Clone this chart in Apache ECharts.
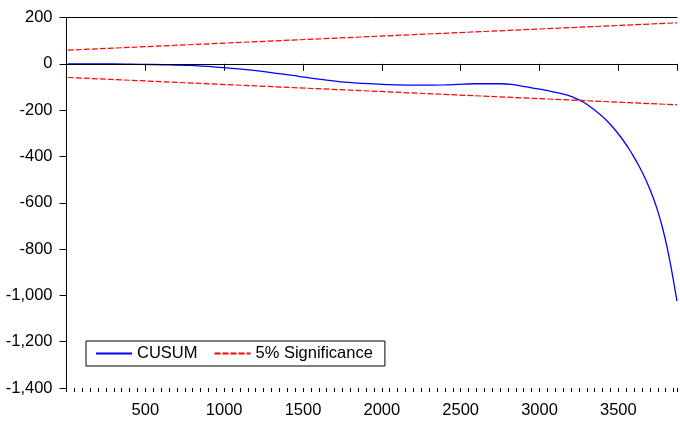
<!DOCTYPE html>
<html>
<head>
<meta charset="utf-8">
<script src="https://cdn.jsdelivr.net/npm/echarts@6/dist/echarts.min.js"></script>
<style>
  html, body { margin: 0; padding: 0; background: #fff; }
  #chart { width: 680px; height: 423px; }
</style>
</head>
<body>
<div id="chart"></div>
<script>
// CUSUM test
const obsIndex = [8, 300, 464, 620, 780, 950, 1095, 1300, 1473, 1650, 1789, 1978, 2100, 2230, 2400, 2480, 2600, 2760, 2820, 2880, 2950, 3053, 3177, 3251, 3300, 3388, 3450, 3514, 3570, 3600, 3630, 3660, 3690, 3720, 3750, 3780, 3810, 3840, 3872]
const cusum = [0, 0, -2, -4, -7, -14, -22, -38, -54, -70, -80, -88, -91, -92, -91, -89, -86, -86, -89, -95, -104, -116, -135, -156, -175, -221, -262, -315, -370, -404, -440, -480, -525, -576, -636, -708, -795, -900, -1025]
const boundIndex = [8, 3872]
const upperBound = [59, 177]
const lowerBound = [-59, -177]
const yTicks = [200, 0, -200, -400, -600, -800, -1000, -1200, -1400]

const font = '"Liberation Sans", Arial, sans-serif'
const chart = echarts.init(document.getElementById('chart'))

const pairs = (xs, ys) => xs.map((x, i) => [x, ys[i]])

const option = {
  animation: false,
  textStyle: { fontFamily: font },
  grid: { left: 66.5, right: 0, top: 17.5, bottom: 35 },
  legend: {
    left: 86, top: 341,
    orient: 'horizontal',
    padding: [4, 12, 4, 9],
    itemGap: 16,
    itemWidth: 36,
    itemHeight: 14,
    borderColor: '#000',
    borderWidth: 1,
    borderRadius: 0,
    itemStyle: { color: 'rgba(0,0,0,0)', borderWidth: 0 },
    textStyle: { fontFamily: font, fontSize: 16.5, color: '#000' },
    data: ['CUSUM', '5% Significance']
  },
  xAxis: [
    {
      type: 'value', min: 0, max: 3872, interval: 500,
      axisLine: { lineStyle: { color: '#000', width: 1 } },
      axisTick: { inside: false, length: 7, lineStyle: { color: '#000' } },
      axisLabel: {
        color: '#000', fontSize: 16.5, margin: 14, fontFamily: font,
        formatter: v => (v > 0 && v % 500 === 0) ? String(v) : ''
      },
      splitLine: { show: false }
    },
    {
      type: 'value', min: 0, max: 3872, interval: 50, position: 'bottom',
      axisLine: { show: false },
      axisTick: { inside: false, length: 4, lineStyle: { color: '#000' } },
      axisLabel: { show: false },
      splitLine: { show: false }
    },
    {
      type: 'value', min: 0, max: 3872, position: 'top',
      axisLine: { lineStyle: { color: '#000', width: 1 } },
      axisTick: { show: false },
      axisLabel: { show: false },
      splitLine: { show: false }
    }
  ],
  yAxis: {
    type: 'value', min: yTicks[yTicks.length - 1], max: yTicks[0], interval: 200,
    axisLine: { show: true, lineStyle: { color: '#000', width: 1 } },
    axisTick: { show: true, inside: false, length: 7, lineStyle: { color: '#000' } },
    axisLabel: {
      color: '#000', fontSize: 16.5, margin: 14, fontFamily: font,
      formatter: v => v.toLocaleString('en-US')
    },
    splitLine: { show: false }
  },
  series: [
    {
      name: 'CUSUM', type: 'line', symbol: 'none', smooth: 0.3,
      data: pairs(obsIndex, cusum),
      lineStyle: { color: '#0000ff', width: 1.3 },
      itemStyle: { color: '#0000ff' },
      markLine: {
        silent: true, symbol: 'none', label: { show: false },
        lineStyle: { color: '#000', width: 1, type: 'solid' },
        data: [{ yAxis: 0 }]
      },
      z: 3
    },
    {
      name: '5% Significance', type: 'line', symbol: 'none',
      data: pairs(boundIndex, upperBound),
      lineStyle: { color: '#ff0000', width: 1.2, type: [6, 2] },
      itemStyle: { color: '#ff0000' }
    },
    {
      name: '5% Significance', type: 'line', symbol: 'none',
      data: pairs(boundIndex, lowerBound),
      lineStyle: { color: '#ff0000', width: 1.2, type: [6, 2] },
      itemStyle: { color: '#ff0000' }
    }
  ]
}

chart.setOption(option)
</script>
</body>
</html>
